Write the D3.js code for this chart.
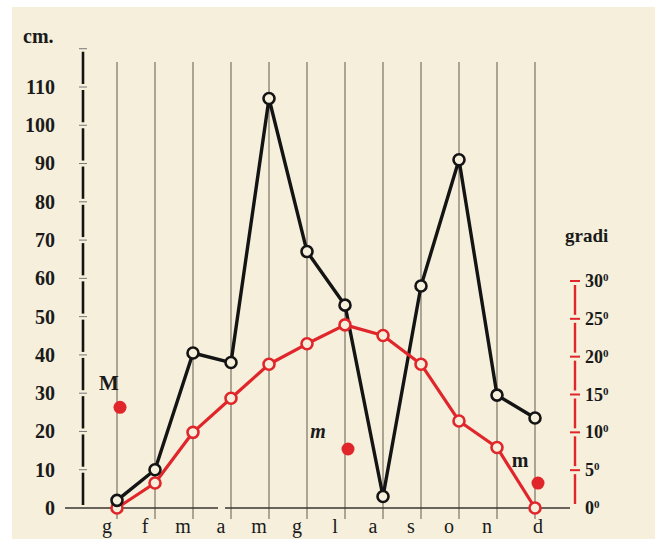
<!DOCTYPE html>
<html>
<head>
<meta charset="utf-8">
<script src="https://cdn.jsdelivr.net/npm/d3@7"></script>
<style>
  body { margin: 0; background: #fff; }
  text { font-family: "Liberation Serif", "DejaVu Serif", serif; font-weight: bold; fill: #1a1a1a; }
</style>
</head>
<body>
<div id="chart"></div>
<script>
// month initials (Italian), precipitation in cm, temperature in degrees
const months = ['g', 'f', 'm', 'a', 'm', 'g', 'l', 'a', 's', 'o', 'n', 'd'];
const rain = [2, 10, 40.5, 38, 107, 67, 53, 3, 58, 91, 29.5, 23.5];
const temp = [0, 3.3, 10, 14.5, 19, 21.7, 24.2, 22.8, 19, 11.5, 8, 0];
const cmTicks = [0, 10, 20, 30, 40, 50, 60, 70, 80, 90, 100, 110];
const degTicks = [0, 5, 10, 15, 20, 25, 30];
// red dots: month index, temperature, label
const dots = [
    {month: 0, value: 13.3, label: 'M', italic: false},
    {month: 6, value: 7.8, label: 'm', italic: true},
    {month: 11, value: 3.3, label: 'm', italic: false}
];

const W = 660, H = 539;
const RED = '#e1262b';
const INK = '#141414';
const PAPER = '#f5efdc';

const svg = d3.select('#chart').append('svg')
    .attr('width', W)
    .attr('height', H);

svg.append('rect')
    .attr('x', 12).attr('y', 7)
    .attr('width', 643).attr('height', H - 7)
    .attr('fill', PAPER);

const x = d3.scalePoint().domain(d3.range(months.length)).range([117, 535]);
const yCm = d3.scaleLinear().domain([0, 110]).range([508, 87]);
const yDeg = d3.scaleLinear().domain([0, 30]).range([508, 281]);

// month grid lines
svg.append('g').selectAll('line')
    .data(d3.range(months.length))
    .join('line')
    .attr('x1', d => x(d)).attr('x2', d => x(d))
    .attr('y1', 62).attr('y2', 519)
    .attr('stroke', '#857c6c')
    .attr('stroke-width', 1.3);

// baseline (with the small break of the print)
svg.append('line')
    .attr('x1', 65).attr('x2', 218)
    .attr('y1', yCm(0)).attr('y2', yCm(0))
    .attr('stroke', '#3a3631').attr('stroke-width', 1.4);
svg.append('line')
    .attr('x1', 225).attr('x2', 570)
    .attr('y1', yCm(0)).attr('y2', yCm(0))
    .attr('stroke', '#3a3631').attr('stroke-width', 1.4);

// left axis: dashed bar broken at each tick
const leftX = 83;
const cmBreaks = [120].concat(cmTicks.slice().reverse());
const leftAxis = svg.append('g');
leftAxis.selectAll('line.seg')
    .data(d3.pairs(cmBreaks))
    .join('line')
    .attr('class', 'seg')
    .attr('x1', leftX).attr('x2', leftX)
    .attr('y1', d => yCm(d[0]) + 3)
    .attr('y2', d => yCm(d[1]) - 3)
    .attr('stroke', INK).attr('stroke-width', 2.6);
leftAxis.selectAll('line.tick')
    .data(cmBreaks.filter(d => d > 0))
    .join('line')
    .attr('class', 'tick')
    .attr('x1', leftX - 4).attr('x2', leftX + 4)
    .attr('y1', d => yCm(d)).attr('y2', d => yCm(d))
    .attr('stroke', '#777').attr('stroke-width', 1);

svg.append('g')
    .attr('transform', `translate(${leftX},0)`)
    .call(d3.axisLeft(yCm).tickValues(cmTicks).tickSize(0).tickPadding(28))
    .call(g => g.select('.domain').remove())
    .call(g => g.selectAll('text')
        .attr('fill', INK)
        .style('font-size', '20px')
        .style('font-family', '"Liberation Serif", serif'));

svg.append('text')
    .attr('x', 23).attr('y', 43)
    .style('font-size', '20px')
    .text('cm.');

// right axis (degrees), red
const rightX = 575;
const rightAxis = svg.append('g');
rightAxis.selectAll('line.seg')
    .data(d3.pairs(degTicks.slice().reverse()))
    .join('line')
    .attr('class', 'seg')
    .attr('x1', rightX).attr('x2', rightX)
    .attr('y1', d => yDeg(d[0]) + 4)
    .attr('y2', d => yDeg(d[1]) - 4)
    .attr('stroke', RED).attr('stroke-width', 2.4);
rightAxis.selectAll('line.tick')
    .data(degTicks.filter(d => d > 0))
    .join('line')
    .attr('class', 'tick')
    .attr('x1', rightX - 5).attr('x2', rightX + 5)
    .attr('y1', d => yDeg(d)).attr('y2', d => yDeg(d))
    .attr('stroke', RED).attr('stroke-width', 2);

const degLabels = rightAxis.selectAll('text')
    .data(degTicks)
    .join('text')
    .attr('x', rightX + 10)
    .attr('y', d => yDeg(d) + 6)
    .style('font-size', '18px');
degLabels.append('tspan').text(d => d);
degLabels.append('tspan')
    .attr('dy', -6)
    .style('font-size', '11px')
    .text('0');

svg.append('text')
    .attr('x', 565).attr('y', 242)
    .style('font-size', '19px')
    .text('gradi');

// month labels
svg.append('g').selectAll('text')
    .data(months)
    .join('text')
    .attr('x', (d, i) => x(i) + (i === 11 ? 3 : -10))
    .attr('y', 533)
    .attr('text-anchor', 'middle')
    .style('font-size', '20px')
    .style('font-weight', 'normal')
    .text(d => d);

// lines
const rainLine = d3.line().x((d, i) => x(i)).y(d => yCm(d));
const tempLine = d3.line().x((d, i) => x(i)).y(d => yDeg(d));

svg.append('path')
    .datum(rain)
    .attr('d', rainLine)
    .attr('fill', 'none')
    .attr('stroke', INK)
    .attr('stroke-width', 3.4)
    .attr('stroke-linejoin', 'round');

svg.append('path')
    .datum(temp)
    .attr('d', tempLine)
    .attr('fill', 'none')
    .attr('stroke', RED)
    .attr('stroke-width', 3.2)
    .attr('stroke-linejoin', 'round');

svg.append('g').selectAll('circle')
    .data(temp)
    .join('circle')
    .attr('cx', (d, i) => x(i))
    .attr('cy', d => yDeg(d))
    .attr('r', 5.5)
    .attr('fill', PAPER)
    .attr('stroke', RED)
    .attr('stroke-width', 2.6);

svg.append('g').selectAll('circle')
    .data(rain)
    .join('circle')
    .attr('cx', (d, i) => x(i))
    .attr('cy', d => yCm(d))
    .attr('r', 5.5)
    .attr('fill', PAPER)
    .attr('stroke', INK)
    .attr('stroke-width', 2.6);

// red dots with their letters
const dotG = svg.append('g').selectAll('g')
    .data(dots)
    .join('g')
    .attr('transform', d => `translate(${x(d.month) + 3},${yDeg(d.value)})`);
dotG.append('circle')
    .attr('r', 6.5)
    .attr('fill', RED);
dotG.append('text')
    .attr('x', d => d.label === 'M' ? -11 : (d.italic ? -30 : -18))
    .attr('y', d => d.label === 'M' ? -17 : (d.italic ? -11 : -16))
    .attr('text-anchor', 'middle')
    .style('font-size', d => d.label === 'M' ? '21px' : '20px')
    .style('font-style', d => d.italic ? 'italic' : 'normal')
    .text(d => d.label);
</script>
</body>
</html>
